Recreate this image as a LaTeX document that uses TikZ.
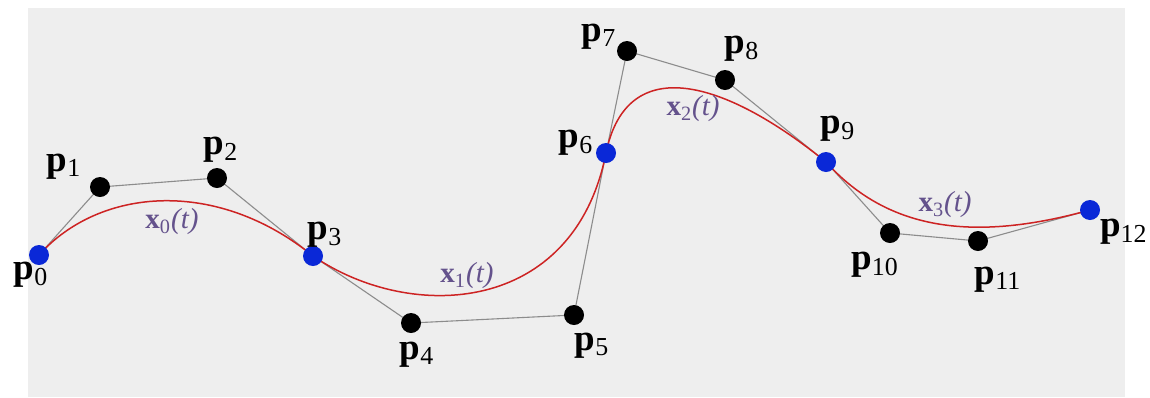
\documentclass[tikz,border=0pt]{standalone}
\usepackage{fontspec}
\setmainfont{Liberation Serif}
\usetikzlibrary{positioning}
\pgfdeclarelayer{bg}
\pgfdeclarelayer{lines}
\pgfsetlayers{bg,lines,main}
\definecolor{knotblue}{RGB}{10,40,215}
\definecolor{curvered}{RGB}{205,35,35}
\definecolor{lblpurple}{RGB}{100,82,140}
\definecolor{bggray}{RGB}{238,238,238}
\newcommand{\plbl}[1]{\textbf{p}\textsubscript{#1}}
\newcommand{\xlbl}[1]{\textbf{x}\textsubscript{#1}\textit{(t)}}

\begin{document}
\begin{tikzpicture}[x=0.5pt, y=-0.5pt,
  dot/.style={circle, fill=black, inner sep=0pt, minimum size=10pt},
  knot/.style={dot, fill=knotblue},
  plab/.style={font=\fontsize{18.5}{20}\selectfont, inner sep=0pt},
  xlab/.style={font=\fontsize{14.5}{16}\selectfont, text=lblpurple, inner sep=0pt},
  ctrl/.style={draw=gray!90, line width=0.55pt},
  crv/.style={draw=curvered, line width=0.75pt}
]
\useasboundingbox (0,0) rectangle (1150,397);
\begin{pgfonlayer}{bg}
  \fill[bggray] (28,8) rectangle (1125,397);
\end{pgfonlayer}

% control points
\foreach \i/\x/\y/\s in {0/39/255/knot, 1/100/187/dot, 2/217/178/dot,
    3/313/256/knot, 4/411/323/dot, 5/574/315/dot, 6/606/153/knot,
    7/627/51/dot, 8/725/80/dot, 9/826/162/knot, 10/890/233/dot,
    11/978/241/dot, 12/1090/210/knot}
  \node[\s] (p\i) at (\x,\y) {};

% point labels
\foreach \i/\x/\y in {0/31/275, 1/64/167, 2/221/150, 3/325/235, 4/417/355,
    5/592/346, 6/576/143, 7/599/37, 8/742/49, 9/838/129, 10/875/265,
    11/998/280}
  \node[plab] (l\i) at (\x,\y) {\plbl{\i}};
\node[plab, anchor=east] (l12) at (1148,232) {\plbl{12}};

% segment labels
\node[xlab] (s0) at (172,222) {\xlbl{0}};
\node[xlab] (s1) at (467,276) {\xlbl{1}};
\node[xlab] (s2) at (693,109) {\xlbl{2}};
\node[xlab] (s3) at (945,205) {\xlbl{3}};

\begin{pgfonlayer}{lines}
  \draw[ctrl] (p0.center) -- (p1.center) -- (p2.center) -- (p3.center)
    -- (p4.center) -- (p5.center) -- (p6.center) -- (p7.center)
    -- (p8.center) -- (p9.center) -- (p10.center) -- (p11.center)
    -- (p12.center);
  \draw[crv] (p0.center) .. controls (p1.center) and (p2.center) .. (p3.center)
    .. controls (p4.center) and (p5.center) .. (p6.center)
    .. controls (p7.center) and (p8.center) .. (p9.center)
    .. controls (p10.center) and (p11.center) .. (p12.center);
\end{pgfonlayer}
\end{tikzpicture}
\end{document}
